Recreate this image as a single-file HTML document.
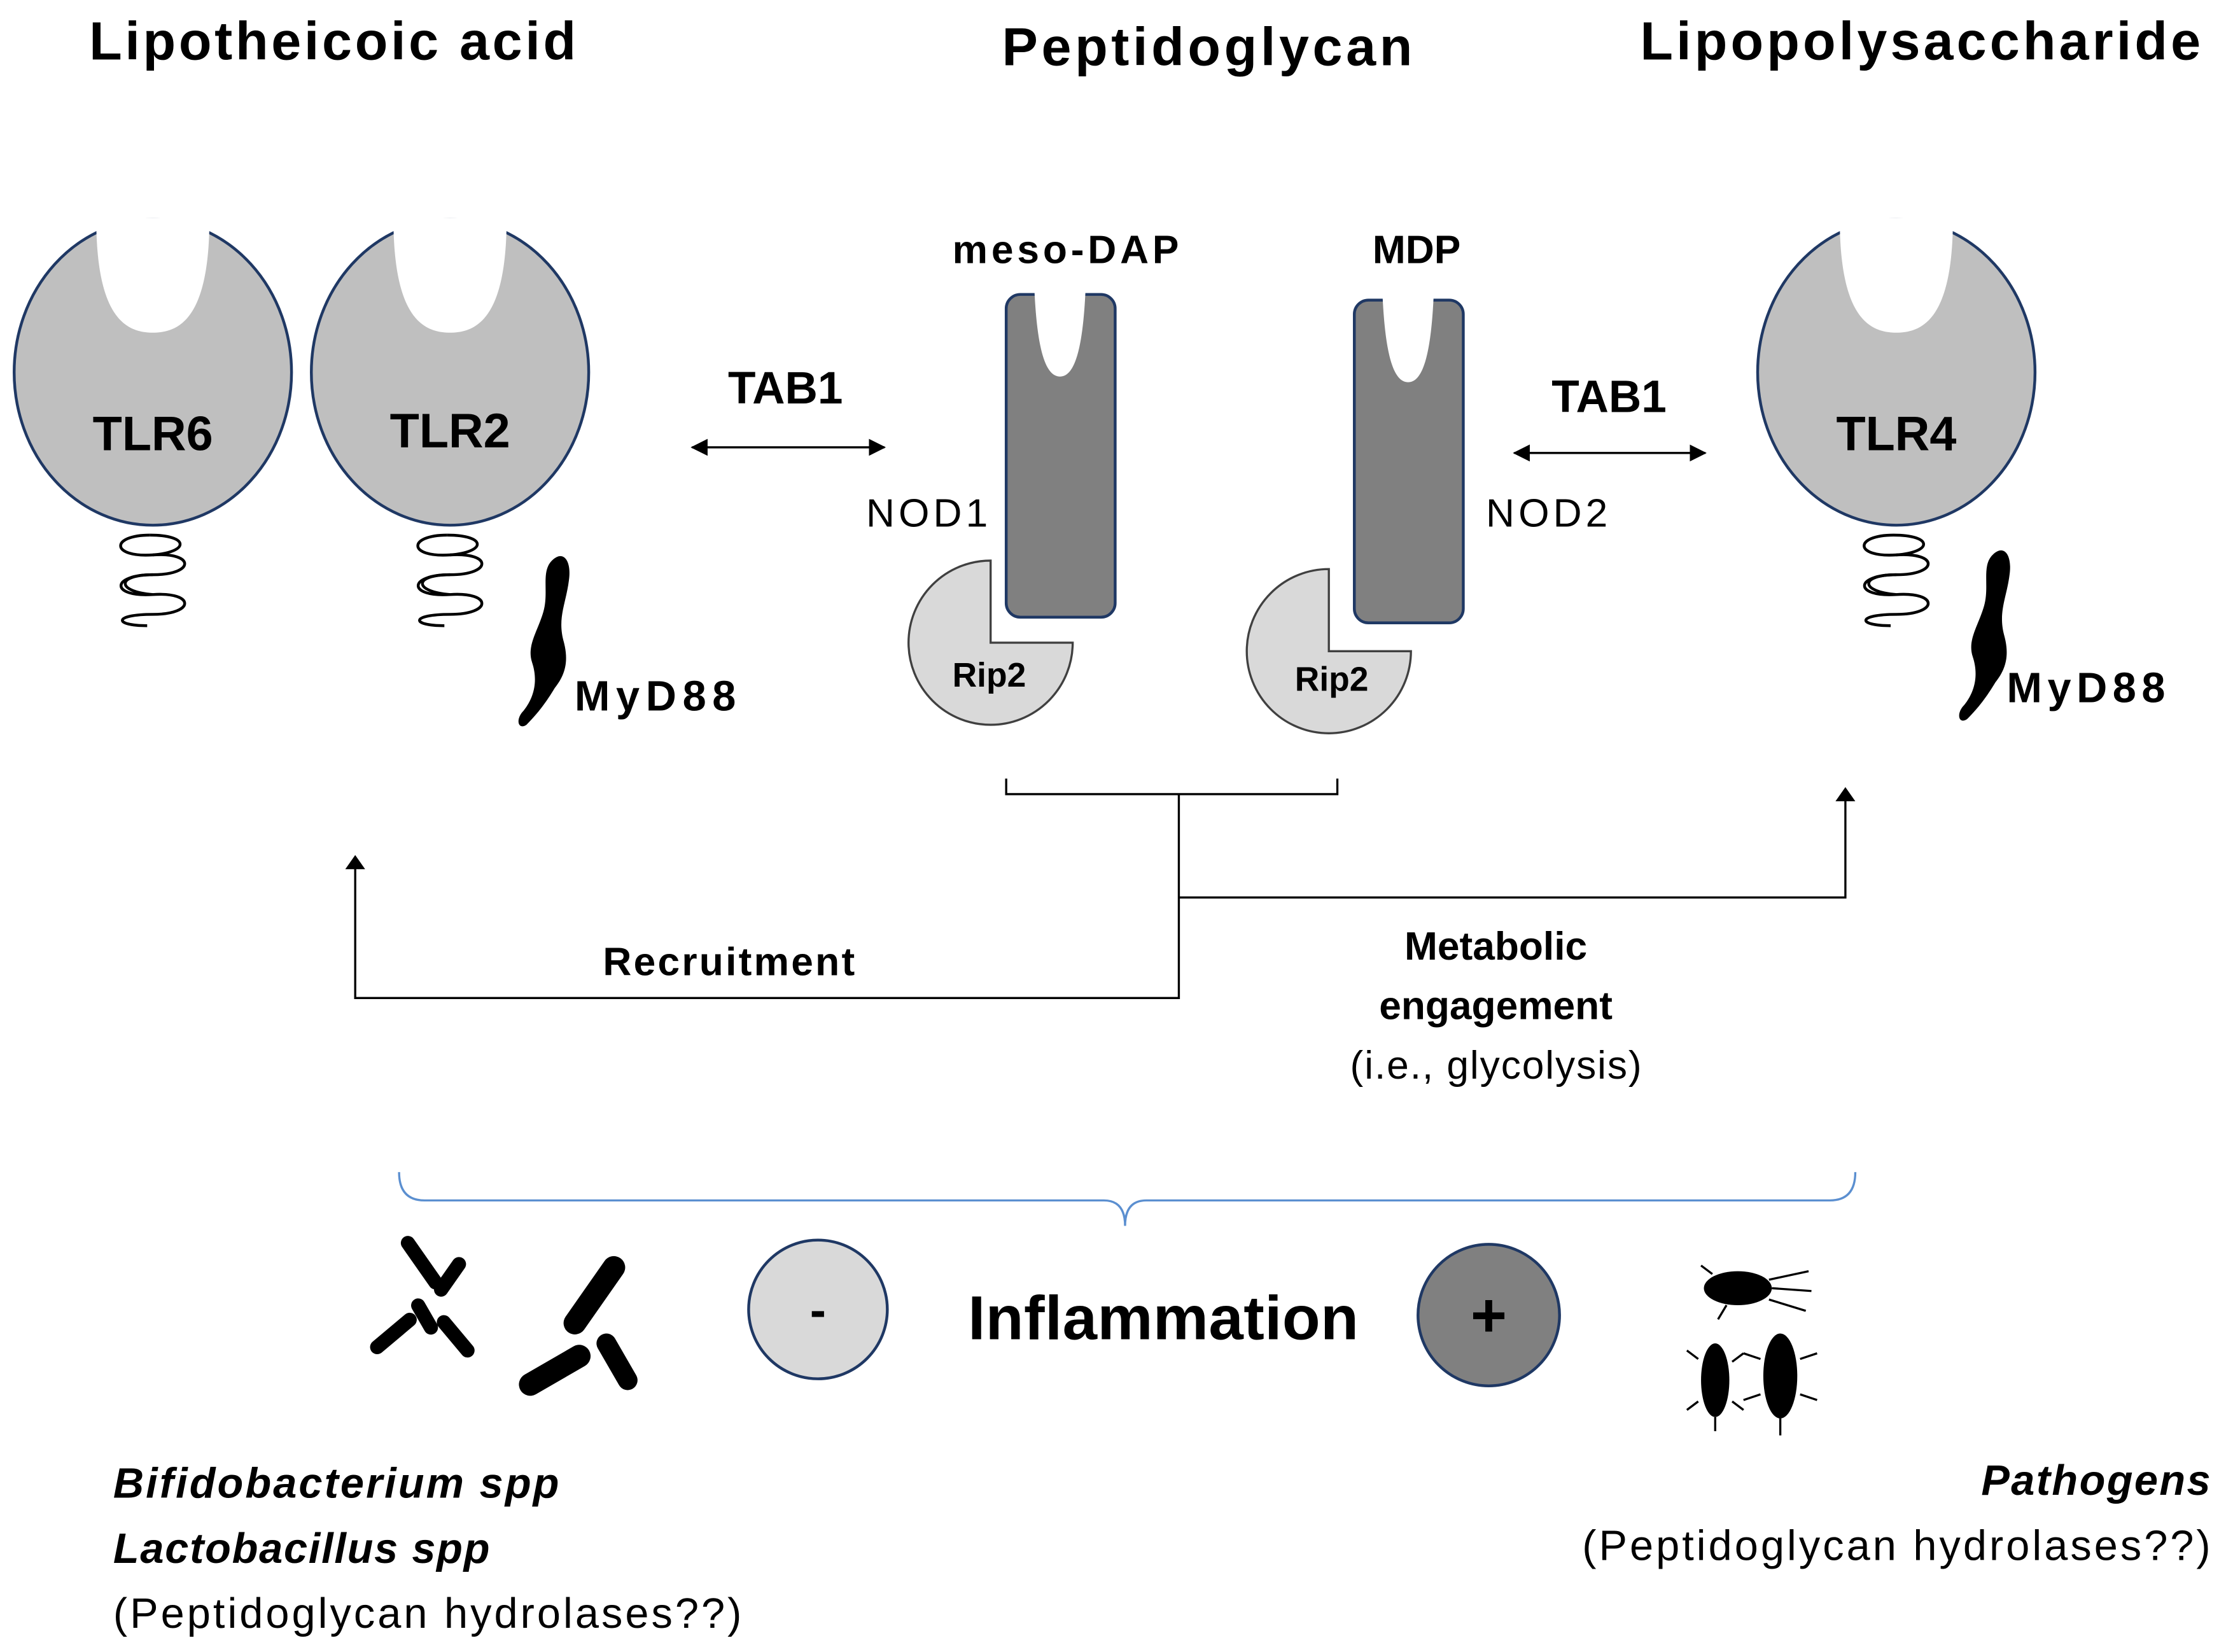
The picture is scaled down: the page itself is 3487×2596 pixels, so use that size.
<!DOCTYPE html>
<html><head><meta charset="utf-8"><style>
html,body{margin:0;padding:0;background:#fff;}
svg{display:block;}
text{font-family:"Liberation Sans","DejaVu Sans",sans-serif;fill:#000;}
</style></head><body>
<svg width="3487" height="2596" viewBox="0 0 1568 1167" preserveAspectRatio="none" xmlns="http://www.w3.org/2000/svg">
<defs>
<marker id="ahs" markerWidth="12" markerHeight="12" refX="11" refY="6" orient="auto-start-reverse" markerUnits="userSpaceOnUse"><path d="M0,0 L12,6 L0,12 z" fill="#000"/></marker>
<g id="coil" fill="none" stroke="#000" stroke-width="2">
<path d="M-2,-6 C-30,-6 -30,10 0,8 C30,6 30,22 0,22 C-30,22 -30,38 0,36 C30,34 30,50 0,50 C-28,50 -28,58 -4,58"/>
<path d="M-2,-6 C26,-6 26,6 0,8 M0,22 C-26,22 -26,34 0,36"/>
</g>
<g id="tlr">
<ellipse cx="0" cy="0" rx="98" ry="108" fill="#bfbfbf" stroke="#1f3864" stroke-width="2"/>
<path d="M-40,-109 C-40,-40 -20,-28 0,-28 C20,-28 40,-40 40,-109 Z" fill="#fff"/>
</g>
<g id="nod">
<rect x="0" y="0" width="77" height="228" rx="10" fill="#808080" stroke="#1f3864" stroke-width="2"/>
<path d="M20,-2 C22,40 28,58 38,58 C48,58 54,40 56,-2 Z" fill="#fff"/>
</g>
<g id="rip">
<path d="M0,-58 A58,58 0 1 0 58,0 L0,0 Z" fill="#d9d9d9" stroke="#404040" stroke-width="1.5"/>
</g>
<path id="myd" d="M0,0 C8,-8 14,0 12,14 C10,30 4,40 8,56 C12,70 10,80 2,90 C-4,100 -10,108 -18,116 C-24,120 -26,112 -20,106 C-12,96 -10,84 -14,72 C-18,60 -10,50 -6,36 C-2,22 -8,8 0,0 Z" fill="#000"/>
</defs>

<text x="235" y="42" font-size="38" font-weight="bold" text-anchor="middle" textLength="344">Lipotheicoic acid</text>
<text x="853" y="46" font-size="38" font-weight="bold" text-anchor="middle" textLength="290">Peptidoglycan</text>
<text x="1357" y="42" font-size="38" font-weight="bold" text-anchor="middle" textLength="396">Lipopolysaccharide</text>

<use href="#coil" x="108" y="384"/>
<use href="#coil" x="318" y="384"/>
<use href="#coil" x="1340" y="384"/>
<use href="#tlr" x="108" y="263"/>
<use href="#tlr" x="318" y="263"/>
<use href="#tlr" x="1340" y="263"/>
<text x="108" y="318" font-size="34" font-weight="bold" text-anchor="middle">TLR6</text>
<text x="318" y="316" font-size="34" font-weight="bold" text-anchor="middle">TLR2</text>
<text x="1340" y="318" font-size="34" font-weight="bold" text-anchor="middle">TLR4</text>

<use href="#myd" x="390" y="396"/>
<use href="#myd" x="1408" y="392"/>
<text x="406" y="502" font-size="30" font-weight="bold" textLength="114">MyD88</text>
<text x="1418" y="496" font-size="30" font-weight="bold" textLength="112">MyD88</text>

<text x="555" y="285" font-size="32" font-weight="bold" text-anchor="middle">TAB1</text>
<line x1="489" y1="316" x2="625" y2="316" stroke="#000" stroke-width="1.5" marker-start="url(#ahs)" marker-end="url(#ahs)"/>
<text x="1137" y="291" font-size="32" font-weight="bold" text-anchor="middle">TAB1</text>
<line x1="1070" y1="320" x2="1205" y2="320" stroke="#000" stroke-width="1.5" marker-start="url(#ahs)" marker-end="url(#ahs)"/>

<text x="753" y="186" font-size="28" font-weight="bold" text-anchor="middle" textLength="160">meso-DAP</text>
<text x="1001" y="186" font-size="28" font-weight="bold" text-anchor="middle">MDP</text>
<use href="#nod" x="711" y="208"/>
<use href="#nod" x="957" y="212"/>
<text x="655" y="372" font-size="28" text-anchor="middle" textLength="86">NOD1</text>
<text x="1093" y="372" font-size="28" text-anchor="middle" textLength="86">NOD2</text>
<use href="#rip" x="700" y="454"/>
<use href="#rip" x="939" y="460"/>
<text x="699" y="485" font-size="24" font-weight="bold" text-anchor="middle">Rip2</text>
<text x="941" y="488" font-size="24" font-weight="bold" text-anchor="middle">Rip2</text>

<g fill="none" stroke="#000" stroke-width="1.5">
<path d="M711,550 V561 H945 V550"/>
<path d="M833,561 V705 H251 V610"/>
<path d="M833,634 H1304 V562"/>
</g>
<path d="M244,614 L251,604 L258,614 Z" fill="#000"/>
<path d="M1297,566 L1304,556 L1311,566 Z" fill="#000"/>
<text x="515" y="689" font-size="28" font-weight="bold" text-anchor="middle" textLength="178">Recruitment</text>
<text x="1057" y="678" font-size="28" font-weight="bold" text-anchor="middle">Metabolic</text>
<text x="1057" y="720" font-size="28" font-weight="bold" text-anchor="middle">engagement</text>
<text x="1057" y="762" font-size="28" text-anchor="middle" textLength="206">(i.e., glycolysis)</text>

<path d="M282,828 Q282,848 300,848 L780,848 Q795,848 795,866 Q795,848 810,848 L1293,848 Q1311,848 1311,828" fill="none" stroke="#5b8fd0" stroke-width="1.5"/>

<circle cx="578" cy="925" r="49" fill="#d9d9d9" stroke="#1f3864" stroke-width="2"/>
<text x="578" y="937" font-size="34" font-weight="bold" text-anchor="middle">-</text>
<circle cx="1052" cy="929" r="50" fill="#808080" stroke="#1f3864" stroke-width="2"/>
<text x="1052" y="944" font-size="44" font-weight="bold" text-anchor="middle">+</text>
<text x="822" y="946" font-size="44" font-weight="bold" text-anchor="middle" textLength="276">Inflammation</text>

<g fill="#000">
<rect x="-5" y="-22" width="10" height="44" rx="5" transform="translate(298,892) rotate(-35)"/>
<rect x="-5" y="-16" width="10" height="32" rx="5" transform="translate(318,902) rotate(35)"/>
<rect x="-5" y="-20" width="10" height="40" rx="5" transform="translate(278,942) rotate(50)"/>
<rect x="-5" y="-14" width="10" height="28" rx="5" transform="translate(300,930) rotate(-30)"/>
<rect x="-5" y="-18" width="10" height="36" rx="5" transform="translate(322,944) rotate(-40)"/>
<rect x="-8" y="-32" width="16" height="64" rx="8" transform="translate(420,915) rotate(35)"/>
<rect x="-8" y="-28" width="16" height="56" rx="8" transform="translate(392,968) rotate(60)"/>
<rect x="-7" y="-22" width="14" height="44" rx="7" transform="translate(436,962) rotate(-30)"/>
<ellipse cx="1228" cy="910" rx="24" ry="12"/>
<ellipse cx="1212" cy="975" rx="10" ry="26"/>
<ellipse cx="1258" cy="972" rx="12" ry="30"/>
</g>
<g stroke="#000" stroke-width="1.5">
<path d="M1250,904 l28,-6 M1252,910 l28,2 M1250,918 l26,8 M1210,900 l-8,-6 M1220,922 l-6,10 M1200,960 l-8,-6 M1224,962 l8,-6 M1200,990 l-8,6 M1224,990 l8,6 M1244,960 l-12,-4 M1272,960 l12,-4 M1244,985 l-12,4 M1272,985 l12,4 M1258,1002 v12 M1212,1001 v10"/>
</g>

<text x="80" y="1058" font-size="30" font-weight="bold" font-style="italic" textLength="315">Bifidobacterium spp</text>
<text x="80" y="1104" font-size="30" font-weight="bold" font-style="italic" textLength="266">Lactobacillus spp</text>
<text x="80" y="1150" font-size="30" textLength="444">(Peptidoglycan hydrolases??)</text>
<text x="1562" y="1056" font-size="30" font-weight="bold" font-style="italic" text-anchor="end" textLength="162">Pathogens</text>
<text x="1562" y="1102" font-size="30" text-anchor="end" textLength="444">(Peptidoglycan hydrolases??)</text>
</svg>
</body></html>
